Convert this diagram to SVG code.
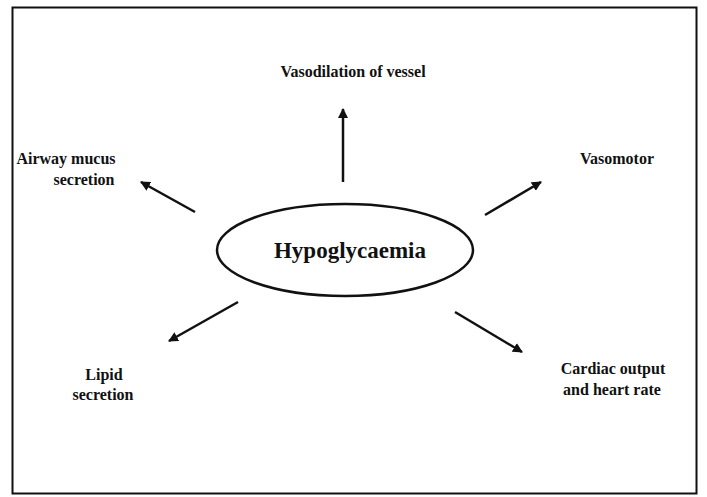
<svg xmlns="http://www.w3.org/2000/svg" width="707" height="497" viewBox="0 0 707 497">
<style>
.lbl{font-family:"Liberation Serif","Times New Roman",serif;font-size:16px;font-weight:bold;fill:#111;text-anchor:middle}
.big{font-size:23px}
.cn{stroke:#111;stroke-width:2.5;fill:none}
</style>
<defs>
<marker id="ah" viewBox="0 0 10 10" refX="9" refY="5" markerWidth="4" markerHeight="4" orient="auto">
<path d="M0,0 L10,5 L0,10 z" fill="#111"/>
</marker>
</defs>
<rect x="0" y="0" width="707" height="497" fill="#fff"/>
<rect x="12.5" y="7.5" width="684" height="486" fill="none" stroke="#111" stroke-width="2"/>
<g id="center">
<ellipse cx="345" cy="250" rx="128" ry="46" fill="none" stroke="#111" stroke-width="2.5"/>
<text class="lbl big" x="350" y="258">Hypoglycaemia</text>
</g>
<g id="top"><text class="lbl" x="353" y="77">Vasodilation of vessel</text></g>
<g id="left"><text class="lbl" x="66" y="164">Airway mucus</text><text class="lbl" x="84" y="185">secretion</text></g>
<g id="topright"><text class="lbl" x="617" y="164">Vasomotor</text></g>
<g id="bottomleft"><text class="lbl" x="104" y="380">Lipid</text><text class="lbl" x="103" y="400">secretion</text></g>
<g id="bottomright"><text class="lbl" x="613" y="374">Cardiac output</text><text class="lbl" x="612" y="395">and heart rate</text></g>
<g id="connectors">
<line class="cn" x1="343" y1="182" x2="343" y2="109" marker-end="url(#ah)"/>
<line class="cn" x1="195" y1="212" x2="141" y2="182" marker-end="url(#ah)"/>
<line class="cn" x1="485" y1="215" x2="541" y2="182" marker-end="url(#ah)"/>
<line class="cn" x1="238" y1="302" x2="169" y2="341" marker-end="url(#ah)"/>
<line class="cn" x1="455" y1="312" x2="522" y2="352" marker-end="url(#ah)"/>
</g>
</svg>
